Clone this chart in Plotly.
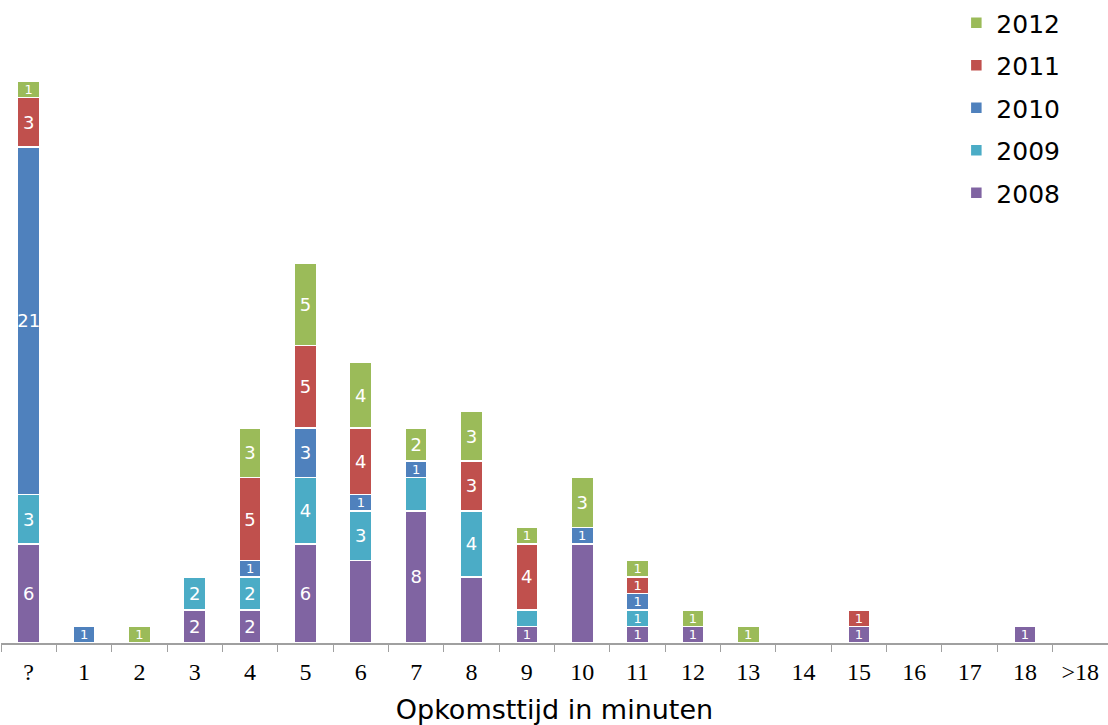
import plotly.graph_objects as go

categories = ["?", "1", "2", "3", "4", "5", "6", "7", "8", "9", "10",
              "11", "12", "13", "14", "15", "16", "17", "18", ">18"]

y2008 = [6, 0, 0, 2, 2, 6, 5, 8, 4, 1, 6, 1, 1, 0, 0, 1, 0, 0, 1, 0]
y2009 = [3, 0, 0, 2, 2, 4, 3, 2, 4, 1, 0, 1, 0, 0, 0, 0, 0, 0, 0, 0]
y2010 = [21, 1, 0, 0, 1, 3, 1, 1, 0, 0, 1, 1, 0, 0, 0, 0, 0, 0, 0, 0]
y2011 = [3, 0, 0, 0, 5, 5, 4, 0, 3, 4, 0, 1, 0, 0, 0, 1, 0, 0, 0, 0]
y2012 = [1, 0, 1, 0, 3, 5, 4, 2, 3, 1, 3, 1, 1, 1, 0, 0, 0, 0, 0, 0]

# segments whose value label is not shown in the original
hidden = {
    "2008": ["6", "8", "10"],
    "2009": ["7", "9"],
}

series = [
    ("2008", y2008, "#8064A2"),
    ("2009", y2009, "#4BACC6"),
    ("2010", y2010, "#4F81BD"),
    ("2011", y2011, "#C0504D"),
    ("2012", y2012, "#9BBB59"),
]

fig = go.Figure()
n = len(series)
for i, (name, vals, color) in enumerate(series):
    hid = hidden.get(name, [])
    text = ["" if (v == 0 or c in hid) else str(v) for c, v in zip(categories, vals)]
    sizes = [13 if v == 1 else 18 for v in vals]
    fig.add_trace(go.Bar(
        name=name, x=categories, y=vals, text=text,
        marker=dict(color=color, line=dict(color="white", width=1.5)),
        textposition="inside", insidetextanchor="middle", textangle=0,
        constraintext="none",
        textfont=dict(family="DejaVu Sans", size=sizes, color="white"),
        legendgroup=name, legendrank=n - i,
    ))

fig.update_layout(
    barmode="stack",
    bargap=0.6,
    width=1108, height=725,
    margin=dict(l=1, r=0, t=47, b=82),
    paper_bgcolor="white", plot_bgcolor="white",
    legend=dict(
        x=0.863, y=1.08, xanchor="left", yanchor="top",
        traceorder="grouped", tracegroupgap=7,
        font=dict(family="DejaVu Sans", size=25, color="black"),
        bgcolor="rgba(0,0,0,0)", itemwidth=30,
    ),
    xaxis=dict(
        showline=True, linecolor="#a0a0a0", linewidth=1.5,
        ticks="outside", tickson="boundaries", ticklen=7, tickcolor="#a0a0a0",
        ticklabelstandoff=6,
        tickfont=dict(family="Liberation Serif", size=24, color="black"),
        title=dict(text="Opkomsttijd in minuten", standoff=18,
                   font=dict(family="DejaVu Sans", size=27, color="black")),
        showgrid=False, automargin=False,
    ),
    yaxis=dict(range=[0, 36], showticklabels=False, showgrid=False,
               zeroline=False, showline=False),
)

fig.write_html("out.html", config={"displayModeBar": False},
               post_script="document.body.style.margin='0';")
